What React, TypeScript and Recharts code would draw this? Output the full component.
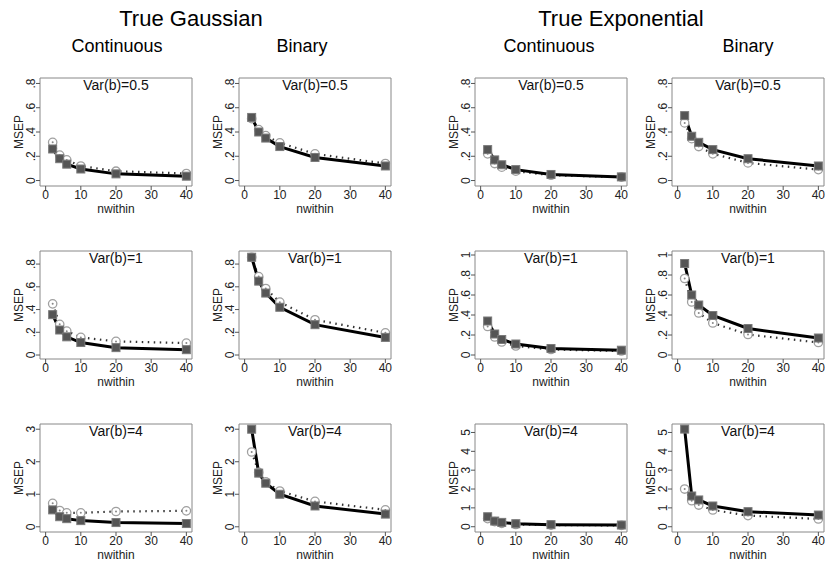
import React from 'react';
import { LineChart, Line, XAxis, YAxis, ReferenceArea } from 'recharts';

// nwithin values (x axis)
const NWITHIN = [2, 4, 6, 10, 20, 40];

// Var(b)=0.5
const gaussCont05Sq = [0.26, 0.18, 0.135, 0.095, 0.055, 0.036];
const gaussCont05Ci = [0.315, 0.21, 0.17, 0.12, 0.077, 0.058];
const gaussBin05Sq = [0.52, 0.40, 0.35, 0.28, 0.19, 0.12];
const gaussBin05Ci = [0.51, 0.42, 0.37, 0.31, 0.22, 0.14];
const expCont05Sq = [0.255, 0.17, 0.13, 0.09, 0.05, 0.03];
const expCont05Ci = [0.22, 0.14, 0.11, 0.077, 0.044, 0.028];
const expBin05Sq = [0.535, 0.365, 0.315, 0.255, 0.18, 0.12];
const expBin05Ci = [0.475, 0.345, 0.28, 0.22, 0.145, 0.09];

// Var(b)=1
const gaussCont1Sq = [0.355, 0.22, 0.16, 0.11, 0.065, 0.047];
const gaussCont1Ci = [0.45, 0.27, 0.21, 0.155, 0.12, 0.105];
const gaussBin1Sq = [0.86, 0.65, 0.545, 0.42, 0.267, 0.155];
const gaussBin1Ci = [0.86, 0.69, 0.585, 0.465, 0.31, 0.195];
const expCont1Sq = [0.34, 0.21, 0.155, 0.11, 0.065, 0.048];
const expCont1Ci = [0.285, 0.18, 0.13, 0.09, 0.055, 0.04];
const expBin1Sq = [0.915, 0.60, 0.50, 0.395, 0.265, 0.17];
const expBin1Ci = [0.765, 0.53, 0.42, 0.32, 0.205, 0.125];

// Var(b)=4
const gaussCont4Sq = [0.52, 0.31, 0.25, 0.19, 0.13, 0.10];
const gaussCont4Ci = [0.72, 0.50, 0.43, 0.43, 0.47, 0.49];
const gaussBin4Sq = [3.0, 1.65, 1.34, 1.0, 0.64, 0.39];
const gaussBin4Ci = [2.3, 1.67, 1.38, 1.1, 0.78, 0.52];
const expCont4Sq = [0.53, 0.30, 0.23, 0.16, 0.11, 0.09];
const expCont4Ci = [0.43, 0.27, 0.18, 0.12, 0.09, 0.07];
const expBin4Sq = [5.18, 1.63, 1.42, 1.1, 0.8, 0.62];
const expBin4Ci = [2.0, 1.38, 1.15, 0.89, 0.59, 0.41];

// tick labels
const X_TICKS = [0, 10, 20, 30, 40];
const Y_TICKS_08 = [0, 0.2, 0.4, 0.6, 0.8];
const Y_TICKS_1 = [0, 0.2, 0.4, 0.6, 0.8, 1];
const Y_TICKS_3 = [0, 1, 2, 3];
const Y_TICKS_5 = [0, 1, 2, 3, 4, 5];

const MAIN_TITLES = ['True Gaussian', 'True Exponential'];
const COL_TITLES = ['Continuous', 'Binary', 'Continuous', 'Binary'];
const ROW_TITLES = ['Var(b)=0.5', 'Var(b)=1', 'Var(b)=4'];

const FONT = '"Liberation Sans", Arial, Helvetica, sans-serif';
const X_DOMAIN: [number, number] = [-1.6, 41.6];

const COL_LEFT = [40, 239, 475, 672];
const ROW_TOP = [78, 251, 424];
const BW = 152;
const BH = 108;
const YW = 40;
const XH = 29;
const MT = 2;
const MR = 2;

const panels = [
  { r: 0, c: 0, sq: gaussCont05Sq, ci: gaussCont05Ci, yDomain: [-0.045, 0.845], yTicks: Y_TICKS_08 },
  { r: 0, c: 1, sq: gaussBin05Sq, ci: gaussBin05Ci, yDomain: [-0.045, 0.845], yTicks: Y_TICKS_08 },
  { r: 0, c: 2, sq: expCont05Sq, ci: expCont05Ci, yDomain: [-0.045, 0.845], yTicks: Y_TICKS_08 },
  { r: 0, c: 3, sq: expBin05Sq, ci: expBin05Ci, yDomain: [-0.045, 0.845], yTicks: Y_TICKS_08 },
  { r: 1, c: 0, sq: gaussCont1Sq, ci: gaussCont1Ci, yDomain: [-0.035, 0.915], yTicks: Y_TICKS_08 },
  { r: 1, c: 1, sq: gaussBin1Sq, ci: gaussBin1Ci, yDomain: [-0.035, 0.915], yTicks: Y_TICKS_08 },
  { r: 1, c: 2, sq: expCont1Sq, ci: expCont1Ci, yDomain: [-0.04, 1.04], yTicks: Y_TICKS_1 },
  { r: 1, c: 3, sq: expBin1Sq, ci: expBin1Ci, yDomain: [-0.04, 1.04], yTicks: Y_TICKS_1 },
  { r: 2, c: 0, sq: gaussCont4Sq, ci: gaussCont4Ci, yDomain: [-0.16, 3.16], yTicks: Y_TICKS_3 },
  { r: 2, c: 1, sq: gaussBin4Sq, ci: gaussBin4Ci, yDomain: [-0.16, 3.16], yTicks: Y_TICKS_3 },
  { r: 2, c: 2, sq: expCont4Sq, ci: expCont4Ci, yDomain: [-0.28, 5.45], yTicks: Y_TICKS_5 },
  { r: 2, c: 3, sq: expBin4Sq, ci: expBin4Ci, yDomain: [-0.28, 5.45], yTicks: Y_TICKS_5 },
];

function fmtY(v: number): string {
  if (v === 0) return '0';
  if (Number.isInteger(v)) return String(v);
  return String(v).replace(/^0\./, '.');
}

const YTick = (props: any) => {
  const { x, y, payload } = props;
  const tx = x + 1;
  return (
    <text
      x={tx}
      y={y}
      transform={`rotate(-90 ${tx} ${y})`}
      textAnchor="middle"
      fontSize={12}
      fill="#222"
      fontFamily={FONT}
    >
      {fmtY(payload.value)}
    </text>
  );
};

const renderSquare = (p: any) => {
  if (p.cx == null || p.cy == null) return <g key={`s-${p.index}`} />;
  return (
    <rect
      key={`s-${p.index}`}
      x={p.cx - 4}
      y={p.cy - 4}
      width={8}
      height={8}
      fill="#555"
      stroke="#7a7a7a"
      strokeWidth={1}
    />
  );
};

const renderCircle = (p: any) => {
  if (p.cx == null || p.cy == null) return <g key={`c-${p.index}`} />;
  return (
    <g key={`c-${p.index}`}>
      <circle cx={p.cx} cy={p.cy} r={4.2} fill="#fff" stroke="#a0a0a0" strokeWidth={1.3} />
      <circle cx={p.cx} cy={p.cy} r={1} fill="#888" />
    </g>
  );
};

function Panel({ cfg }: { cfg: any }) {
  const data = NWITHIN.map((x, i) => ({ x, sq: cfg.sq[i], ci: cfg.ci[i] }));
  const left = COL_LEFT[cfg.c];
  const top = ROW_TOP[cfg.r];
  return (
    <div style={{ position: 'absolute', left: left - YW, top: top - MT }}>
      <LineChart
        width={BW + YW + MR}
        height={BH + MT + XH}
        data={data}
        margin={{ top: MT, right: MR, left: 0, bottom: 0 }}
      >
        <XAxis
          type="number"
          dataKey="x"
          domain={X_DOMAIN}
          ticks={X_TICKS}
          allowDataOverflow
          height={XH}
          axisLine={false}
          tickLine={{ stroke: '#555' }}
          tickSize={4}
          tickMargin={0}
          interval={0}
          tick={{ fontSize: 12, fill: '#222' }}
          label={{ value: 'nwithin', position: 'insideBottom', offset: 2, fontSize: 12, fill: '#222' }}
        />
        <YAxis
          type="number"
          domain={cfg.yDomain}
          ticks={cfg.yTicks}
          allowDataOverflow
          width={YW}
          axisLine={false}
          tickLine={{ stroke: '#555' }}
          tickSize={4}
          tickMargin={2}
          interval={0}
          tick={<YTick />}
          label={{ value: 'MSEP', angle: -90, position: 'center', dx: -1, fontSize: 12, fill: '#222' }}
        />
        <ReferenceArea
          x1={X_DOMAIN[0]}
          x2={X_DOMAIN[1]}
          y1={cfg.yDomain[0]}
          y2={cfg.yDomain[1]}
          fill="none"
          fillOpacity={0}
          stroke="#888"
          strokeWidth={1}
          ifOverflow="visible"
          label={{ value: ROW_TITLES[cfg.r], position: 'insideTop', offset: 2, fontSize: 14, fill: '#111' }}
        />
        <Line
          type="linear"
          dataKey="ci"
          stroke="#333"
          strokeWidth={2.2}
          strokeDasharray="1.5 4.5"
          dot={renderCircle}
          activeDot={false}
          isAnimationActive={false}
        />
        <Line
          type="linear"
          dataKey="sq"
          stroke="#000"
          strokeWidth={3}
          dot={renderSquare}
          activeDot={false}
          isAnimationActive={false}
        />
      </LineChart>
    </div>
  );
}

const MAIN_CENTERS = [191, 621];
const COL_CENTERS = [117, 302, 549, 748];

export default function App() {
  return (
    <div
      style={{
        position: 'absolute',
        left: 0,
        top: 0,
        width: 825,
        height: 562,
        background: '#fff',
        overflow: 'hidden',
        fontFamily: FONT,
        color: '#000',
      }}
    >
      {MAIN_TITLES.map((t, i) => (
        <div
          key={t}
          style={{
            position: 'absolute',
            left: MAIN_CENTERS[i] - 150,
            width: 300,
            top: 8,
            textAlign: 'center',
            fontSize: 22,
            lineHeight: 1,
          }}
        >
          {t}
        </div>
      ))}
      {COL_TITLES.map((t, i) => (
        <div
          key={`${t}-${i}`}
          style={{
            position: 'absolute',
            left: COL_CENTERS[i] - 100,
            width: 200,
            top: 37,
            textAlign: 'center',
            fontSize: 18,
            lineHeight: 1,
          }}
        >
          {t}
        </div>
      ))}
      {panels.map((cfg, i) => (
        <Panel key={i} cfg={cfg} />
      ))}
    </div>
  );
}
